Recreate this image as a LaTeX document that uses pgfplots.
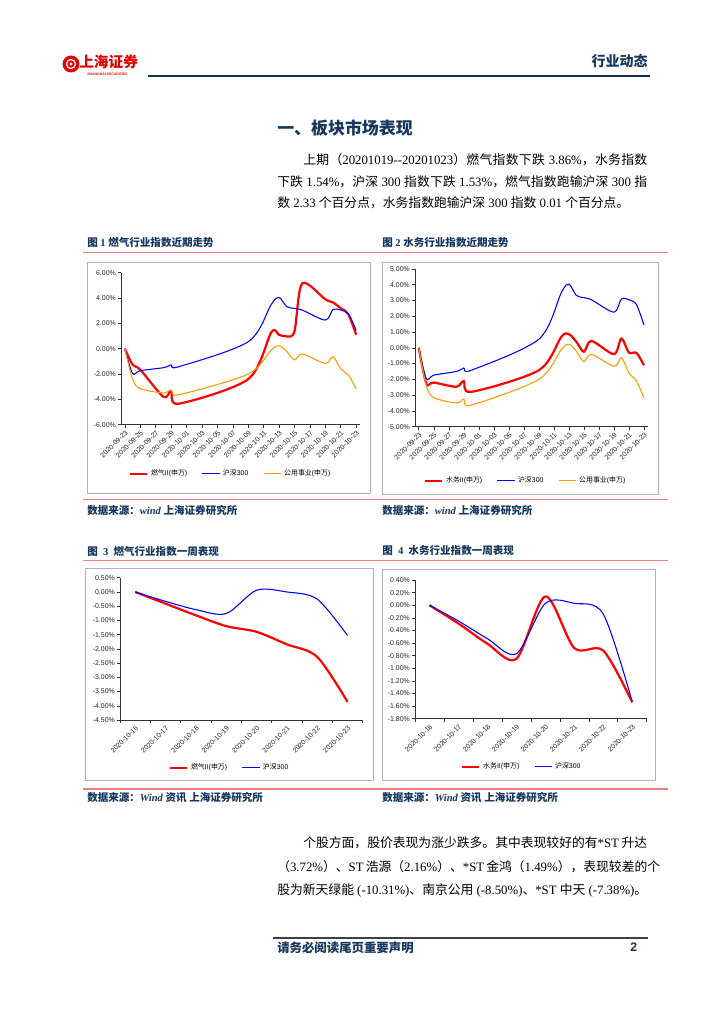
\documentclass[border=0pt]{standalone}
\usepackage{fontspec}
\setmainfont{Liberation Serif}
\setsansfont{Liberation Sans}
\newfontfamily\cjk{Noto Sans CJK SC}[AutoFakeSlant=0.18]
\usepackage{pgfplots}
\pgfplotsset{compat=1.18}

% switch to the CJK family for Chinese characters, back for Latin ones
\XeTeXinterchartokenstate=1
\newXeTeXintercharclass\CJKcls
\newcount\cc
\def\setcls#1#2#3{\cc=#1\relax\loop\XeTeXcharclass\cc=#3\relax\ifnum\cc<#2\relax\advance\cc by 1\repeat}
\setcls{"0021}{"00FF}{0}
\setcls{"2000}{"206F}{0}
\setcls{"3000}{"303F}{\CJKcls}
\setcls{"4E00}{"9FFF}{\CJKcls}
\setcls{"FF00}{"FFEF}{\CJKcls}
\def\latinfam{\rmfamily}
\XeTeXinterchartoks 0 \CJKcls = {\cjk}
\XeTeXinterchartoks 4095 \CJKcls = {\cjk}
\XeTeXinterchartoks \CJKcls 0 = {\latinfam}
\XeTeXinterchartoks \CJKcls 4095 = {\latinfam}
\XeTeXinterchartoks \CJKcls \CJKcls = {\hskip 0pt plus 0.6pt\relax}

\definecolor{xred}{RGB}{255,0,0}
\definecolor{xblue}{RGB}{0,0,255}
\definecolor{xorange}{RGB}{255,153,0}
\definecolor{navy}{RGB}{23,55,94}
\definecolor{pinkl}{RGB}{240,128,128}

\newcommand\chartfont{\def\latinfam{\sffamily}\sffamily\fontsize{5.2}{6}\selectfont}
\newcommand\bodyfont{\fontsize{9.6}{11}\selectfont}
\newcommand\capfont{\bfseries\fontsize{7.9}{9}\selectfont}

\pgfplotsset{
  chart/.style={
    scale only axis,
    axis x line*=bottom, axis y line*=left,
    axis line style={black!80, line width=0.4pt},
    tick align=outside,
    major tick length=2.2pt,
    minor tick length=2.2pt,
    tick style={black!80, line width=0.4pt},
    tick label style={font=\chartfont, text=black!85},
    yticklabel style={inner sep=1.5pt},
    x tick label style={rotate=45, anchor=north east, inner sep=1pt},
    legend cell align=left,
    legend columns=3,
    legend style={draw=none, fill=none, font=\chartfont, anchor=center,
      /tikz/every even column/.append style={column sep=9pt}},
    legend image code/.code={\draw[##1] (0pt,0pt) -- (13pt,0pt);},
  },
  redl/.style={xred, line width=1.65pt, smooth, tension=0.5},
  bluel/.style={xblue, line width=0.8pt, smooth, tension=0.5},
  orgl/.style={xorange, line width=0.8pt, smooth, tension=0.5},
}

\begin{document}
\begin{tikzpicture}[x=0.75pt, y=-0.75pt]
\fill[white] (0,0) rectangle (724,1024);

% header
\fill[xred!90!black] (71,64) circle (8.5);
\draw[white, line width=0.9pt] (71,64) circle (4.5);
\fill[white] (71,64) circle (1.6);
\node[anchor=west, text=xred!90!black, font=\bfseries\fontsize{11}{12}\selectfont, inner sep=0] at (79,61.5) {上海证券};
\node[anchor=west, text=xred, font=\sffamily\bfseries\fontsize{2.6}{3}\selectfont, inner sep=0] at (87,74.5) {SHANGHAI SECURITIES};
\draw[navy!85!black, line width=1.5pt] (148,76.5) -- (650,76.5);
\node[anchor=east, text=navy, font=\bfseries\fontsize{10.5}{12}\selectfont, inner sep=0] at (648,61.5) {行业动态};

% section title and paragraph
\node[anchor=west, text=navy, font=\bfseries\fontsize{12.7}{14}\selectfont, inner sep=0] at (277,128) {一、板块市场表现};
\node[anchor=west, font=\bodyfont, inner sep=0] at (303,160) {\makebox[258pt][s]{上期（20201019-{}-20201023）燃气指数下跌 3.86\%，水务指数}};
\node[anchor=west, font=\bodyfont, inner sep=0] at (277,181.5) {\makebox[277.5pt][s]{下跌 1.54\%，沪深 300 指数下跌 1.53\%，燃气指数跑输沪深 300 指}};
\node[anchor=west, font=\bodyfont, inner sep=0] at (277,203) {数 2.33 个百分点，水务指数跑输沪深 300 指数 0.01 个百分点。};

% captions, rules, frames
\node[anchor=west, text=navy, font=\capfont, inner sep=0] at (87,243) {图 1 燃气行业指数近期走势};
\node[anchor=west, text=navy, font=\capfont, inner sep=0] at (382,243) {图 2 水务行业指数近期走势};
\draw[pinkl, line width=1.1pt] (83,252.5) -- (668,252.5);
\draw[gray!60, line width=0.5pt] (87,262) rectangle (370,493);
\draw[gray!60, line width=0.5pt] (382,262) rectangle (658,494);
\draw[pinkl, line width=1.1pt] (83,499.5) -- (668,499.5);
\node[anchor=west, text=navy, font=\capfont\itshape, inner sep=0] at (87,510) {数据来源：wind 上海证券研究所};
\node[anchor=west, text=navy, font=\capfont\itshape, inner sep=0] at (382,510) {数据来源：wind 上海证券研究所};

\node[anchor=west, text=navy, font=\capfont, inner sep=0] at (87,551) {图\ \ 3\ \ 燃气行业指数一周表现};
\node[anchor=west, text=navy, font=\capfont, inner sep=0] at (382,551) {图\ \ 4\ \ 水务行业指数一周表现};
\draw[pinkl, line width=1.1pt] (83,560.7) -- (668,560.7);
\draw[gray!60, line width=0.5pt] (85,568) rectangle (373,780);
\draw[gray!60, line width=0.5pt] (382,569) rectangle (655,780);
\draw[pinkl, line width=1.1pt] (83,789) -- (668,789);
\node[anchor=west, text=navy, font=\capfont\itshape, inner sep=0] at (87,798) {数据来源：Wind 资讯 上海证券研究所};
\node[anchor=west, text=navy, font=\capfont\itshape, inner sep=0] at (382,798) {数据来源：Wind 资讯 上海证券研究所};

% lower paragraph
\node[anchor=west, font=\bodyfont, inner sep=0] at (303,843) {\makebox[258pt][s]{个股方面，股价表现为涨少跌多。其中表现较好的有*ST 升达}};
\node[anchor=west, font=\bodyfont, inner sep=0] at (277,866.5) {\makebox[277.5pt][s]{（3.72\%）、ST 浩源（2.16\%）、*ST 金鸿（1.49\%），表现较差的个}};
\node[anchor=west, font=\bodyfont, inner sep=0] at (277,890) {\makebox[277.5pt][s]{股为新天绿能 (-10.31\%)、南京公用 (-8.50\%)、*ST 中天 (-7.38\%)。}};

% footer
\draw[black!75, line width=0.9pt] (273,938) -- (648,938);
\node[anchor=west, text=navy, font=\bfseries\fontsize{9.3}{11}\selectfont, inner sep=0] at (277,947.5) {请务必阅读尾页重要声明};
\node[anchor=west, text=navy, font=\sffamily\bfseries\fontsize{9.3}{11}\selectfont, inner sep=0] at (630,947.5) {2};

% chart 1
\coordinate (o1) at (121,424.7);
\begin{axis}[chart, at={(o1)}, anchor=south west, width=179.25pt, height=114pt,
  xmin=-0.5, xmax=30.5, ymin=-6, ymax=6,
  xtick={0,2,...,30},
  xticklabels={2020-09-23,2020-09-25,2020-09-27,2020-09-29,2020-10-01,2020-10-03,2020-10-05,2020-10-07,2020-10-09,2020-10-11,2020-10-13,2020-10-15,2020-10-17,2020-10-19,2020-10-21,2020-10-23},
  ytick={-6,-4,-2,0,2,4,6},
  yticklabels={-6.00\%,-4.00\%,-2.00\%,0.00\%,2.00\%,4.00\%,6.00\%},
  legend style={at={(0.46,-0.324)}}]
\addplot[redl] coordinates {(0,0)(1,-1.26)(2,-1.66)(5,-3.8)(6,-3.37)(7,-4.34)(16,-2.4)(19,1.3)(20,1.1)(21,0.97)(22,1.37)(23,5.15)(26,3.9)(27,3.65)(28,3.2)(29,2.7)(30,1.1)};
\addlegendentry{燃气II(申万)}
\addplot[bluel] coordinates {(0,0)(1,-1.95)(2,-1.73)(5,-1.5)(6,-1.28)(7,-1.42)(16,0.55)(19,3.5)(20,4.05)(21,3.32)(22,3.18)(23,3.05)(26,2.26)(27,3.1)(28,3.05)(29,2.75)(30,1.45)};
\addlegendentry{沪深300}
\addplot[orgl] coordinates {(0,0)(1,-2.4)(2,-3.15)(5,-3.5)(6,-3.25)(7,-3.63)(16,-2.0)(19,-0.1)(20,0.23)(21,-0.22)(22,-0.88)(23,-0.41)(26,-1.17)(27,-0.63)(28,-1.6)(29,-2.1)(30,-3.17)};
\addlegendentry{公用事业(申万)}
\end{axis}

% chart 2
\coordinate (o2) at (415,426.7);
\begin{axis}[chart, at={(o2)}, anchor=south west, width=174.5pt, height=118.3pt,
  xmin=-0.5, xmax=30.5, ymin=-5, ymax=5,
  xtick={0,2,...,30},
  xticklabels={2020-09-23,2020-09-25,2020-09-27,2020-09-29,2020-10-01,2020-10-03,2020-10-05,2020-10-07,2020-10-09,2020-10-11,2020-10-13,2020-10-15,2020-10-17,2020-10-19,2020-10-21,2020-10-23},
  ytick={-5,-4,-3,-2,-1,0,1,2,3,4,5},
  yticklabels={-5.00\%,-4.00\%,-3.00\%,-2.00\%,-1.00\%,0.00\%,1.00\%,2.00\%,3.00\%,4.00\%,5.00\%},
  legend style={at={(0.477,-0.344)}}]
\addplot[redl] coordinates {(0,0)(1,-2.26)(2,-2.2)(5,-2.47)(6,-2.11)(7,-2.79)(16,-1.42)(19,0.7)(20,0.87)(21,0.38)(22,-0.25)(23,0.44)(26,-0.4)(27,0.59)(28,-0.3)(29,-0.32)(30,-1.1)};
\addlegendentry{水务II(申万)}
\addplot[bluel] coordinates {(0,0)(1,-1.95)(2,-1.73)(5,-1.5)(6,-1.28)(7,-1.42)(16,0.55)(19,3.5)(20,4.05)(21,3.32)(22,3.18)(23,3.05)(26,2.26)(27,3.1)(28,3.05)(29,2.75)(30,1.45)};
\addlegendentry{沪深300}
\addplot[orgl] coordinates {(0,0)(1,-2.4)(2,-3.15)(5,-3.5)(6,-3.25)(7,-3.63)(16,-2.0)(19,-0.1)(20,0.23)(21,-0.22)(22,-0.88)(23,-0.41)(26,-1.17)(27,-0.63)(28,-1.6)(29,-2.1)(30,-3.17)};
\addlegendentry{公用事业(申万)}
\end{axis}

% chart 3
\coordinate (o3) at (120,720);
\begin{axis}[chart, at={(o3)}, anchor=south west, width=182pt, height=106.7pt,
  xmin=-0.5, xmax=7.5, ymin=-4.5, ymax=0.5,
  xtick={0,...,7},
  xticklabels={2020-10-16,2020-10-17,2020-10-18,2020-10-19,2020-10-20,2020-10-21,2020-10-22,2020-10-23},
  major x tick style={draw=none},
  minor xtick={-0.5,0.5,...,7.5},
  ytick={-4.5,-4,-3.5,-3,-2.5,-2,-1.5,-1,-0.5,0,0.5},
  yticklabels={-4.50\%,-4.00\%,-3.50\%,-3.00\%,-2.50\%,-2.00\%,-1.50\%,-1.00\%,-0.50\%,0.00\%,0.50\%},
  legend columns=2,
  legend style={at={(0.453,-0.337)}}]
\addplot[redl] coordinates {(0,0)(1,-0.41)(2,-0.82)(3,-1.2)(4,-1.4)(5,-1.84)(6,-2.28)(7,-3.86)};
\addlegendentry{燃气II(申万)}
\addplot[bluel] coordinates {(0,0)(1,-0.33)(2,-0.62)(3,-0.76)(4,0.06)(5,0.0)(6,-0.25)(7,-1.53)};
\addlegendentry{沪深300}
\end{axis}

% chart 4
\coordinate (o4) at (415,718.7);
\begin{axis}[chart, at={(o4)}, anchor=south west, width=173.8pt, height=104pt,
  xmin=-0.5, xmax=7.5, ymin=-1.8, ymax=0.4,
  xtick={0,...,7},
  xticklabels={2020-10-16,2020-10-17,2020-10-18,2020-10-19,2020-10-20,2020-10-21,2020-10-22,2020-10-23},
  major x tick style={draw=none},
  minor xtick={-0.5,0.5,...,7.5},
  ytick={-1.8,-1.6,-1.4,-1.2,-1,-0.8,-0.6,-0.4,-0.2,0,0.2,0.4},
  yticklabels={-1.80\%,-1.60\%,-1.40\%,-1.20\%,-1.00\%,-0.80\%,-0.60\%,-0.40\%,-0.20\%,0.00\%,0.20\%,0.40\%},
  legend columns=2,
  legend style={at={(0.462,-0.346)}}]
\addplot[redl] coordinates {(0,0)(1,-0.29)(2,-0.61)(3,-0.85)(4,0.14)(5,-0.68)(6,-0.72)(7,-1.54)};
\addlegendentry{水务II(申万)}
\addplot[bluel] coordinates {(0,0)(1,-0.25)(2,-0.53)(3,-0.77)(4,0.03)(5,0.03)(6,-0.14)(7,-1.53)};
\addlegendentry{沪深300}
\end{axis}
\end{tikzpicture}
\end{document}
